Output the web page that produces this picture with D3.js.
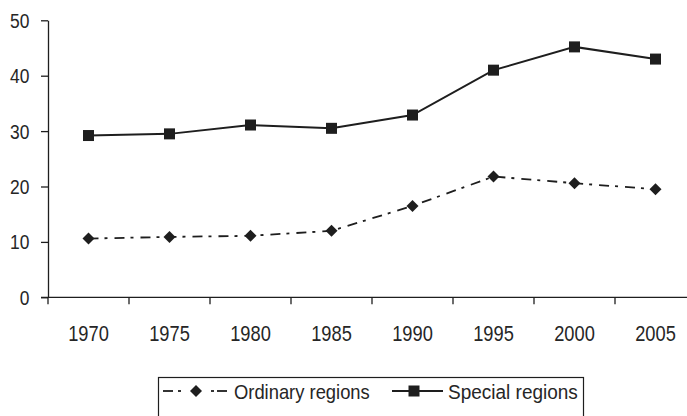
<!DOCTYPE html>
<html>
<head>
<meta charset="utf-8">
<script src="https://cdn.jsdelivr.net/npm/d3@7"></script>
<style>
  html, body { margin: 0; padding: 0; background: #fff; }
  svg { display: block; }
  text { font-family: "Liberation Sans", Arial, Helvetica, sans-serif; fill: #262626; }
</style>
</head>
<body>
<svg id="chart" width="687" height="416"></svg>
<script>
const years = ["1970", "1975", "1980", "1985", "1990", "1995", "2000", "2005"];
const ordinary = [10.6, 10.9, 11.1, 12.0, 16.5, 21.8, 20.6, 19.5];
const special = [29.2, 29.5, 31.1, 30.5, 32.9, 41.0, 45.2, 43.0];
const yTicks = [0, 10, 20, 30, 40, 50];
const seriesNames = ["Ordinary regions", "Special regions"];

const svg = d3.select("#chart");
const x0 = 48, bandW = 81;
const x = d3.scaleBand().domain(years).range([x0, x0 + bandW * years.length]).padding(0);
const y = d3.scaleLinear().domain([0, 50]).range([297.3, 20.3]);

const ink = "#1e1e1e";

function narrowText(g, tx, ty, s, size, anchor, sx) {
  return g.append("text").attr("x", 0).attr("y", 0)
    .attr("transform", `translate(${tx},${ty}) scale(${sx},1)`)
    .attr("font-size", size).attr("text-anchor", anchor).text(s);
}

// Y axis
const yAxis = svg.append("g").attr("transform", `translate(${x0},0)`)
  .call(d3.axisLeft(y).tickValues(yTicks).tickSize(7).tickFormat("").tickSizeOuter(0));
yAxis.select(".domain").attr("stroke", ink).attr("stroke-width", 1.3);
yAxis.selectAll(".tick line").attr("stroke", ink).attr("stroke-width", 1.3);
yTicks.forEach(t => narrowText(svg, 29.5, y(t) + 7.5, String(t), 21, "end", 0.83));

// extend y axis below x axis
svg.append("line").attr("x1", x0).attr("x2", x0).attr("y1", y(0)).attr("y2", y(0) + 7)
  .attr("stroke", ink).attr("stroke-width", 1.3);

// X axis
const xg = svg.append("g").attr("transform", `translate(0,${y(0)})`);
xg.append("line").attr("x1", x0 - 7).attr("x2", 700).attr("y1", 0).attr("y2", 0)
  .attr("stroke", ink).attr("stroke-width", 1.3);
xg.selectAll("line.tk").data(years.slice(1)).join("line").attr("class", "tk")
  .attr("x1", d => x(d)).attr("x2", d => x(d)).attr("y1", 0).attr("y2", 7)
  .attr("stroke", ink).attr("stroke-width", 1.3);
years.forEach(d => narrowText(xg, x(d) + x.bandwidth() / 2, 43.5, d, 22, "middle", 0.83));

const cx = d => x(d) + x.bandwidth() / 2;
const line = d3.line().x(d => cx(d.year)).y(d => y(d.v));

const ordData = years.map((yr, i) => ({ year: yr, v: ordinary[i] }));
const spcData = years.map((yr, i) => ({ year: yr, v: special[i] }));

svg.append("path").datum(ordData).attr("d", line).attr("fill", "none")
  .attr("stroke", ink).attr("stroke-width", 1.8).attr("stroke-dasharray", "10,6,3,7");
svg.append("path").datum(spcData).attr("d", line).attr("fill", "none")
  .attr("stroke", ink).attr("stroke-width", 2);

const diamond = d3.symbol().type(d3.symbolSquare).size(72);
svg.selectAll("path.dm").data(ordData).join("path").attr("class", "dm")
  .attr("d", diamond)
  .attr("transform", d => `translate(${cx(d.year)},${y(d.v)}) rotate(45)`)
  .attr("fill", ink);

svg.selectAll("rect.sq").data(spcData).join("rect").attr("class", "sq")
  .attr("x", d => cx(d.year) - 5.5).attr("y", d => y(d.v) - 5.5)
  .attr("width", 11).attr("height", 11).attr("fill", ink);

// Legend
const lg = svg.append("g");
lg.append("rect").attr("x", 158.5).attr("y", 377.5).attr("width", 425).attr("height", 50)
  .attr("fill", "none").attr("stroke", ink).attr("stroke-width", 1.2);
[[163, 173], [178, 181], [211, 214], [217, 227]].forEach(([a, b]) =>
  lg.append("line").attr("x1", a).attr("x2", b).attr("y1", 391).attr("y2", 391)
    .attr("stroke", ink).attr("stroke-width", 1.8));
lg.append("path").attr("d", diamond).attr("transform", "translate(196,391) rotate(45)").attr("fill", ink);
narrowText(lg, 234, 398.5, seriesNames[0], 21, "start", 0.875);
lg.append("line").attr("x1", 392).attr("x2", 443).attr("y1", 391).attr("y2", 391)
  .attr("stroke", ink).attr("stroke-width", 2);
lg.append("rect").attr("x", 408.5).attr("y", 385.5).attr("width", 11).attr("height", 11).attr("fill", ink);
narrowText(lg, 448, 398.5, seriesNames[1], 21, "start", 0.905);
</script>
</body>
</html>
